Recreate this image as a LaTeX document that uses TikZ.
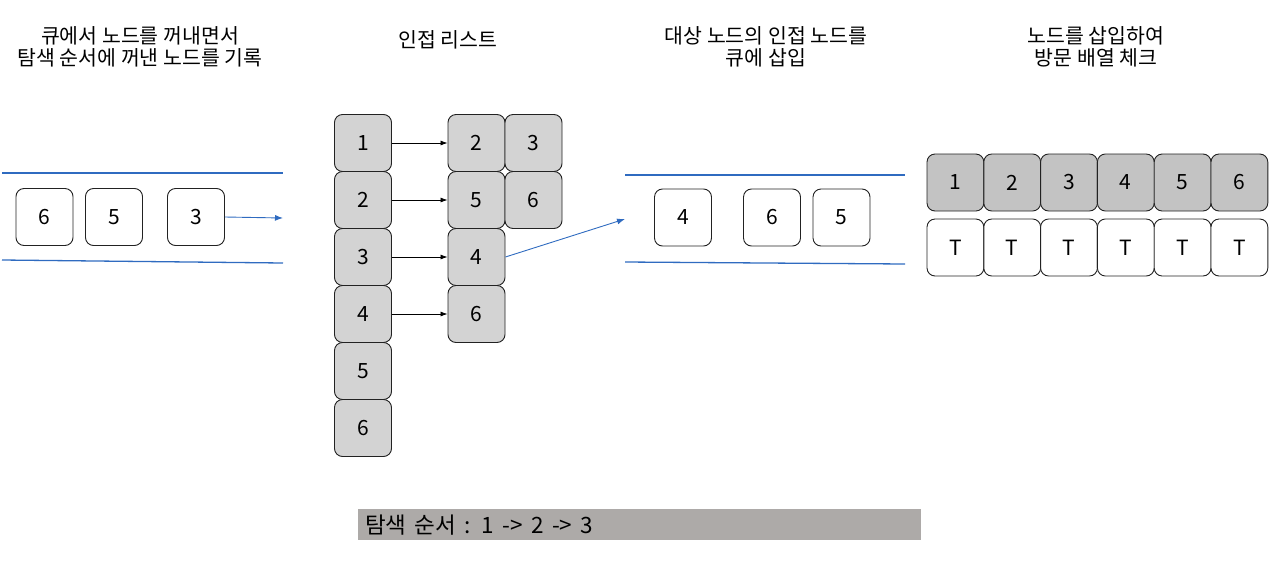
\documentclass[tikz,border=0pt]{standalone}
\usepackage{fontspec}
\setmainfont{Noto Sans CJK KR}
\usetikzlibrary{arrows.meta}
\definecolor{qblue}{HTML}{2F6BC0}
\definecolor{adjgray}{HTML}{D3D3D3}
\definecolor{visgray}{HTML}{C3C3C3}
\definecolor{bargray}{HTML}{ADAAA8}
\definecolor{edge}{HTML}{222222}
\tikzset{
  box/.style={draw=edge, line width=0.9pt, rounded corners=8pt, minimum width=57pt, minimum height=57pt, inner sep=0pt, font=\fontsize{21}{24}\selectfont},
  qbox/.style={box, fill=white},
  abox/.style={box, fill=adjgray},
  vbox/.style={box, fill=visgray, minimum width=56.8pt},
  tbox/.style={box, fill=white, minimum width=56.8pt},
  title/.style={align=center, font=\fontsize{20.5}{22.5}\selectfont},
  qline/.style={draw=qblue, line width=1.3pt},
  blk/.style={-{Latex[length=7pt,width=5pt]}, line width=0.8pt, black},
  blu/.style={-{Latex[length=8pt,width=6pt]}, line width=0.9pt, qblue}
}
\begin{document}
\begin{tikzpicture}[x=1pt,y=-1pt]
\useasboundingbox (0,0) rectangle (1280,579);
% titles
\node[title] (t1) at (140,47) {큐에서 노드를 꺼내면서\\탐색 순서에 꺼낸 노드를 기록};
\node[title] (t2) at (448,40) {인접 리스트};
\node[title] (t3) at (766,47) {대상 노드의 인접 노드를\\큐에 삽입};
\node[title] (t4) at (1096,47) {노드를 삽입하여\\방문 배열 체크};
% left queue
\coordinate (lq1a) at (2,173); \coordinate (lq1b) at (283,173);
\coordinate (lq2a) at (2,260); \coordinate (lq2b) at (283,263);
\draw[qline] (lq1a) -- (lq1b);
\draw[qline] (lq2a) -- (lq2b);
\node[qbox] (q6) at (44.5,217) {6};
\node[qbox] (q5) at (114,217) {5};
\node[qbox] (q3) at (196,217) {3};
\coordinate (qout) at (283,218);
\draw[blu] (q3.east) -- (qout);
% adjacency list
\foreach \i in {1,...,6} {
  \node[abox] (a\i) at (363,{143+57*(\i-1)}) {\i};
}
\node[abox] (b12) at (476.5,143) {2};
\node[abox] (b13) at (533.5,143) {3};
\node[abox] (b25) at (476.5,200) {5};
\node[abox] (b26) at (533.5,200) {6};
\node[abox] (b34) at (476.5,257) {4};
\node[abox] (b46) at (476.5,314) {6};
\draw[blk] (a1.east) -- (b12.west);
\draw[blk] (a2.east) -- (b25.west);
\draw[blk] (a3.east) -- (b34.west);
\draw[blk] (a4.east) -- (b46.west);
% right queue
\coordinate (rq1a) at (625,175); \coordinate (rq1b) at (905,175);
\coordinate (rq2a) at (625,262); \coordinate (rq2b) at (905,264);
\draw[qline] (rq1a) -- (rq1b);
\draw[qline] (rq2a) -- (rq2b);
\coordinate (qin) at (625,219);
\draw[blu] (b34.east) -- (qin);
\node[qbox] (r4) at (683,217.5) {4};
\node[qbox] (r6) at (772,217.5) {6};
\node[qbox] (r5) at (841.5,217.5) {5};
% visited array
\foreach \i in {1,...,6} {
  \node[vbox] (v\i) at ({927+28.4+56.8*(\i-1)},182.5) {\i};
  \node[tbox] (w\i) at ({927+28.4+56.8*(\i-1)},247.5) {T};
}
% bar
\node[fill=bargray, minimum width=563pt, minimum height=31pt, inner sep=0pt] (bar) at (639.5,524.5) {};
\node[anchor=west, font=\fontsize{22.5}{24}\selectfont, inner sep=0pt] (bart) at ([xshift=7pt,yshift=-1pt]bar.west) {\spaceskip=8.5pt\relax 탐색 순서 : 1 -> 2 -> 3};
\end{tikzpicture}
\end{document}
